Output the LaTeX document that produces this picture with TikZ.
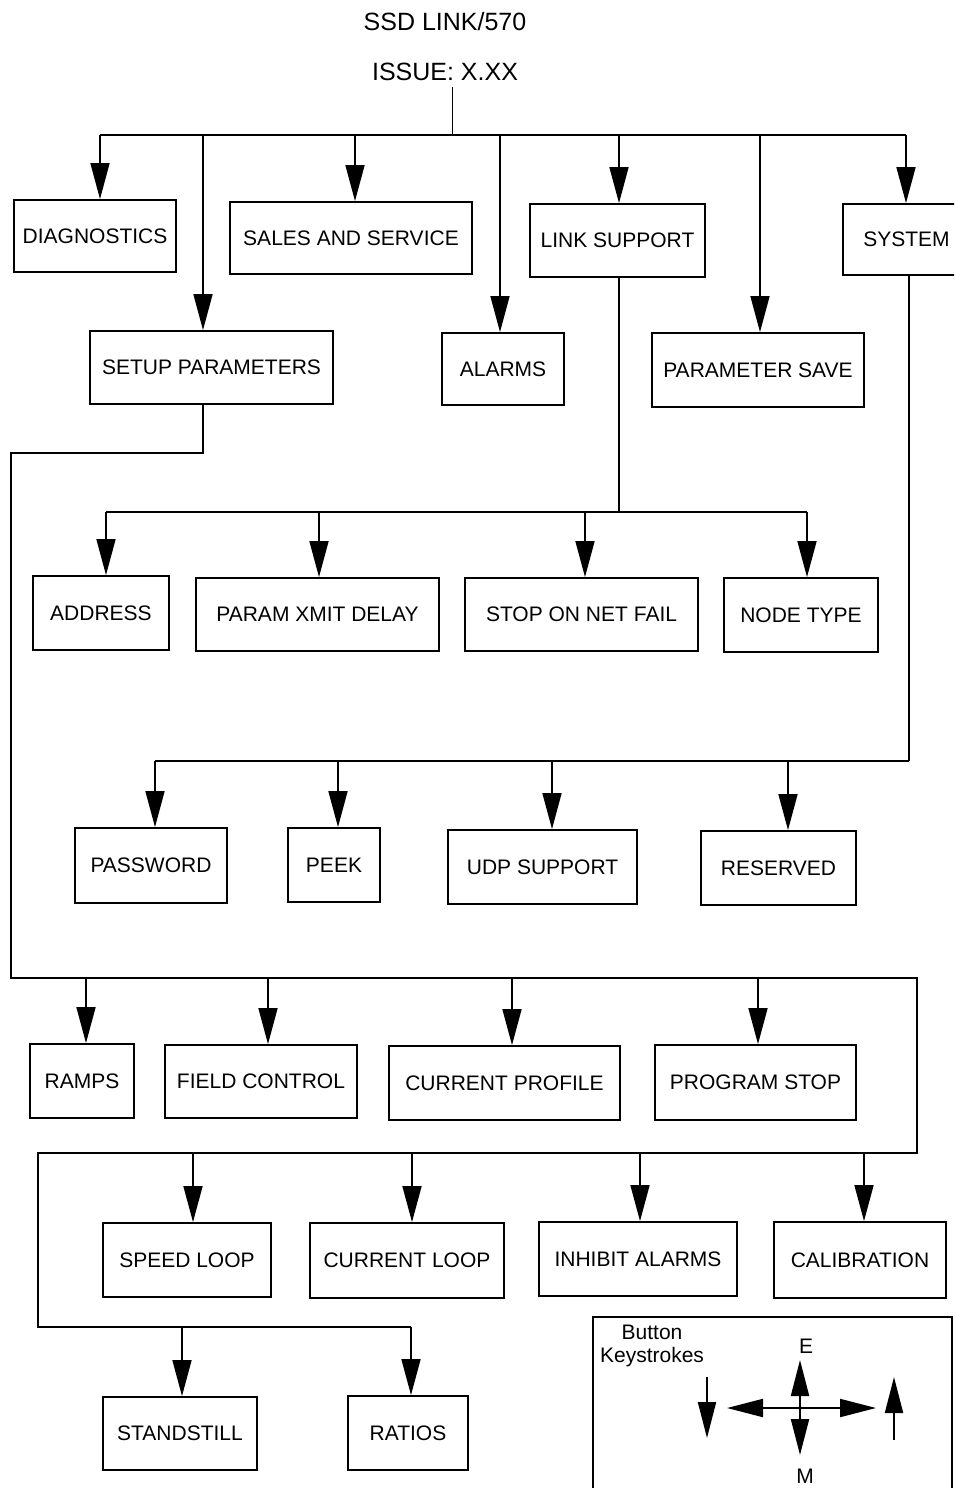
\documentclass[tikz,border=0pt]{standalone}
\usepackage{fontspec}
\setmainfont{Liberation Sans}
\usetikzlibrary{arrows.meta}
\begin{document}
\begin{tikzpicture}[x=1pt,y=-1pt,
  box/.style={draw,line width=1.8pt,inner sep=0pt,font=\fontsize{21}{24}\selectfont},
  bus/.style={line width=2.8pt},
  drop/.style={line width=1.6pt,-{Triangle[length=36pt,width=19pt]}},
  keyarrow/.style={line width=2pt,-{Triangle[length=36pt,width=18pt]}},
  keytext/.style={inner sep=0pt,font=\fontsize{21}{23}\selectfont}]
\useasboundingbox (0,0) rectangle (954,1488);
\clip (0,0) rectangle (954,1488);
\node[inner sep=0pt,font=\fontsize{25}{28}\selectfont] (title) at (445,22) {SSD LINK/570};
\node[inner sep=0pt,font=\fontsize{25}{28}\selectfont] (issue) at (445,72) {ISSUE: X.XX};
\node[box,minimum width=162,minimum height=72] (diag) at (95,236) {DIAGNOSTICS};
\node[box,minimum width=242,minimum height=72] (sales) at (351,238) {SALES AND SERVICE};
\node[box,minimum width=175,minimum height=73] (link) at (617.5,240.5) {LINK SUPPORT};
\node[box,minimum width=127,minimum height=71] (sys) at (906.5,239.5) {SYSTEM};
\node[box,minimum width=243,minimum height=73] (setup) at (211.5,367.5) {SETUP PARAMETERS};
\node[box,minimum width=122,minimum height=72] (alarms) at (503,369) {ALARMS};
\node[box,minimum width=212,minimum height=74] (psave) at (758,370) {PARAMETER SAVE};
\node[box,minimum width=136,minimum height=74] (addr) at (101,613) {ADDRESS};
\node[box,minimum width=243,minimum height=73] (xmit) at (317.5,614.5) {PARAM XMIT DELAY};
\node[box,minimum width=233,minimum height=73] (netfail) at (581.5,614.5) {STOP ON NET FAIL};
\node[box,minimum width=154,minimum height=74] (ntype) at (801,615) {NODE TYPE};
\node[box,minimum width=152,minimum height=75] (passwd) at (151,865.5) {PASSWORD};
\node[box,minimum width=92,minimum height=74] (peek) at (334,865) {PEEK};
\node[box,minimum width=189,minimum height=74] (udp) at (542.5,867) {UDP SUPPORT};
\node[box,minimum width=155,minimum height=74] (resv) at (778.5,868) {RESERVED};
\node[box,minimum width=104,minimum height=74] (ramps) at (82,1081) {RAMPS};
\node[box,minimum width=192,minimum height=73] (field) at (261,1081.5) {FIELD CONTROL};
\node[box,minimum width=231,minimum height=74] (cprof) at (504.5,1083) {CURRENT PROFILE};
\node[box,minimum width=201,minimum height=75] (pstop) at (755.5,1082.5) {PROGRAM STOP};
\node[box,minimum width=168,minimum height=74] (speed) at (187,1260) {SPEED LOOP};
\node[box,minimum width=194,minimum height=75] (cloop) at (407,1260.5) {CURRENT LOOP};
\node[box,minimum width=198,minimum height=74] (inhib) at (638,1259) {INHIBIT ALARMS};
\node[box,minimum width=172,minimum height=76] (calib) at (860,1260) {CALIBRATION};
\node[box,minimum width=154,minimum height=73] (stand) at (180,1433.5) {STANDSTILL};
\node[box,minimum width=120,minimum height=74] (ratios) at (408,1433) {RATIOS};
\coordinate (root) at (452,135);
\draw[line width=1pt,shorten <=6pt] (root |- issue.south) -- (root);
\draw[bus] (100,135) coordinate (t1) -- (906,135) coordinate (t7);
\coordinate (t2) at (203,135);
\coordinate (t3) at (355,135);
\coordinate (t4) at (500,135);
\coordinate (t5) at (619,135);
\coordinate (t6) at (760,135);
\draw[drop] (t1) -- (t1 |- diag.north);
\draw[drop] (t2) -- (t2 |- setup.north);
\draw[drop] (t3) -- (t3 |- sales.north);
\draw[drop] (t4) -- (t4 |- alarms.north);
\draw[drop] (t5) -- (t5 |- link.north);
\draw[drop] (t6) -- (t6 |- psave.north);
\draw[drop] (t7) -- (t7 |- sys.north);
\coordinate (l1) at (106,512);
\coordinate (l2) at (319,512);
\coordinate (l3) at (585,512);
\coordinate (l4) at (807,512);
\draw[line width=1.6pt] (t5 |- link.south) -- (t5 |- l1);
\draw[bus] (l1) -- (l4);
\draw[drop] (l1) -- (l1 |- addr.north);
\draw[drop] (l2) -- (l2 |- xmit.north);
\draw[drop] (l3) -- (l3 |- netfail.north);
\draw[drop] (l4) -- (l4 |- ntype.north);
\coordinate (y1) at (155,761);
\coordinate (y2) at (338,761);
\coordinate (y3) at (552,761);
\coordinate (y4) at (788,761);
\coordinate (y5) at (909,761);
\draw[line width=1.6pt] (y5 |- sys.south) -- (y5);
\draw[bus] (y1) -- (y5);
\draw[drop] (y1) -- (y1 |- passwd.north);
\draw[drop] (y2) -- (y2 |- peek.north);
\draw[drop] (y3) -- (y3 |- udp.north);
\draw[drop] (y4) -- (y4 |- resv.north);
\coordinate (r1) at (86,978);
\coordinate (r2) at (268,978);
\coordinate (r3) at (512,978);
\coordinate (r4) at (758,978);
\coordinate (c1) at (193,1153);
\coordinate (c2) at (412,1153);
\coordinate (c3) at (640,1153);
\coordinate (c4) at (864,1153);
\coordinate (s1) at (182,1327);
\coordinate (s2) at (411,1327);
\draw[bus] (t2 |- setup.south) -- (203,453) -| (11,978) -- (917,978) -- (917,1153) -| (38,1327) -- (s2);
\draw[drop] (r1) -- (r1 |- ramps.north);
\draw[drop] (r2) -- (r2 |- field.north);
\draw[drop] (r3) -- (r3 |- cprof.north);
\draw[drop] (r4) -- (r4 |- pstop.north);
\draw[drop] (c1) -- (c1 |- speed.north);
\draw[drop] (c2) -- (c2 |- cloop.north);
\draw[drop] (c3) -- (c3 |- inhib.north);
\draw[drop] (c4) -- (c4 |- calib.north);
\draw[drop] (s1) -- (s1 |- stand.north);
\draw[drop] (s2) -- (s2 |- ratios.north);
\draw[line width=1.8pt] (593,1317) rectangle (952,1520);
\node[keytext,align=center] (btn) at (652,1346) {Button\\Keystrokes};
\node[keytext] (enter) at (806,1346) {E};
\node[keytext] (menu) at (805,1476) {M};
\coordinate (kc) at (800,1408);
\coordinate (kl) at (727,1408);
\coordinate (kr) at (876,1408);
\coordinate (ku) at (800,1360);
\coordinate (kd) at (800,1455);
\draw[keyarrow] (kc) -- (kl);
\draw[keyarrow] (kc) -- (kr);
\draw[keyarrow] (kc) -- (ku);
\draw[keyarrow] (kc) -- (kd);
\coordinate (dn) at (707,1377);
\coordinate (up) at (894,1440);
\draw[keyarrow] (dn) -- (707,1438);
\draw[keyarrow] (up) -- (894,1377);
\end{tikzpicture}
\end{document}
